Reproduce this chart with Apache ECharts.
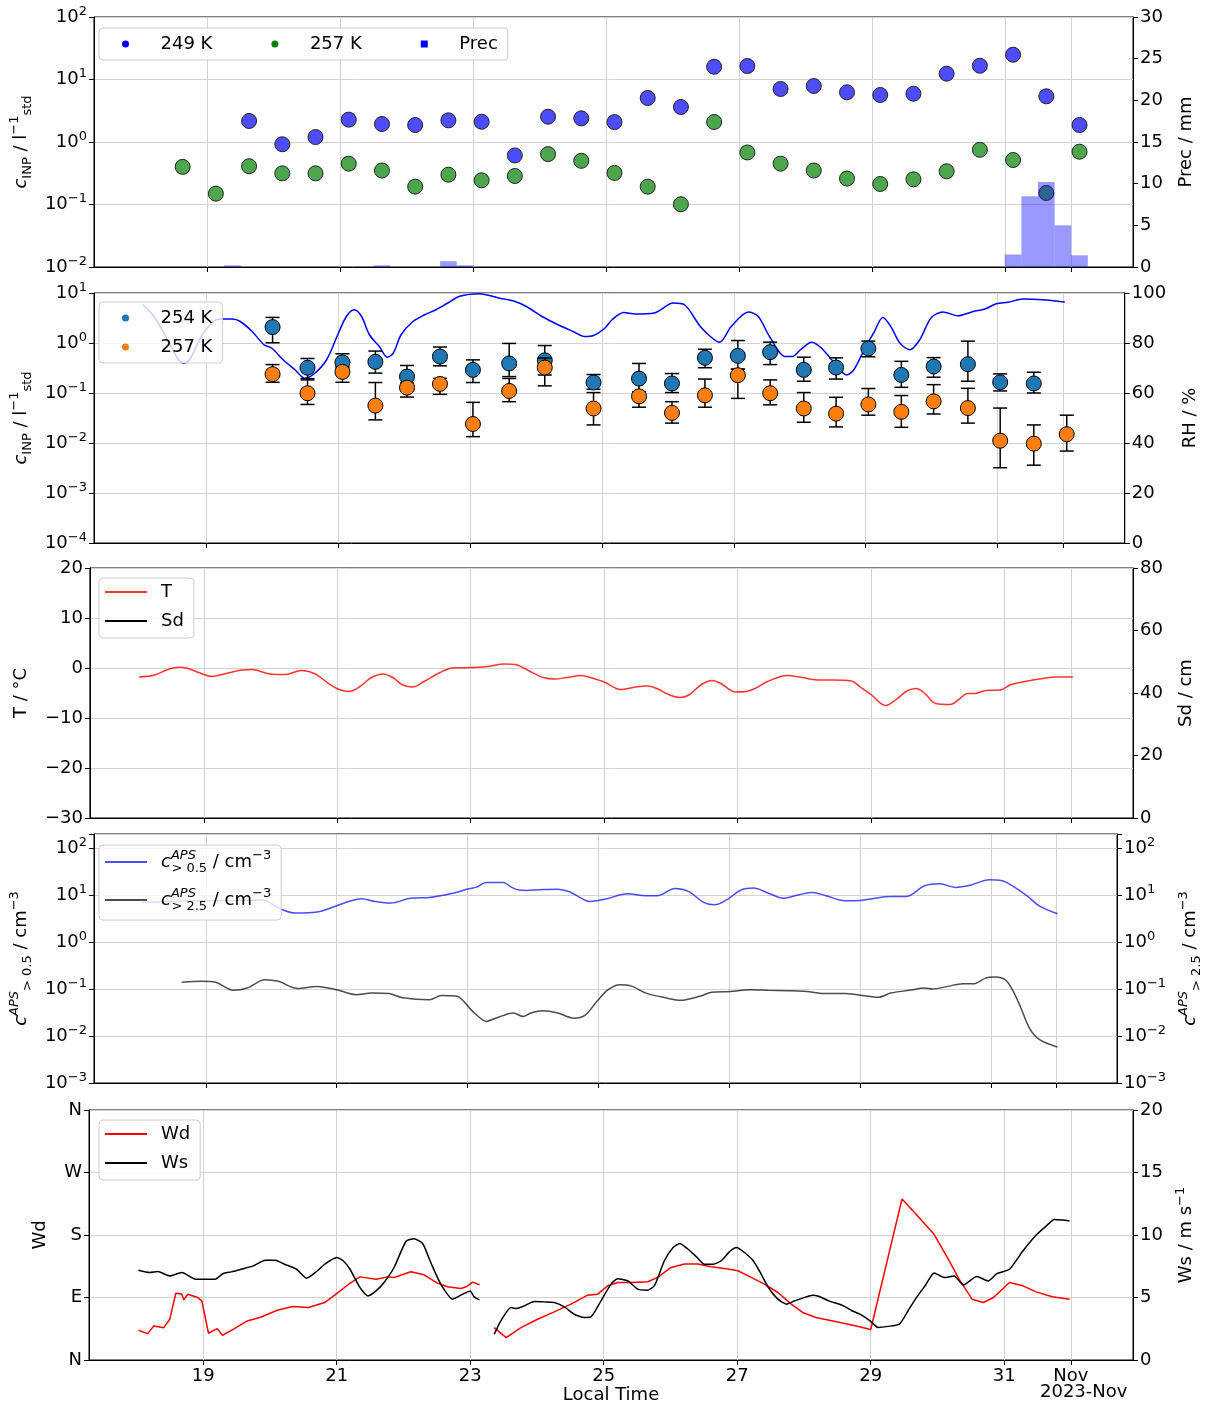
<!DOCTYPE html>
<html lang="en">
<head>
<meta charset="UTF-8">
<title>INP and meteorology, Oct 2023</title>
<script src="https://cdn.jsdelivr.net/npm/echarts@6.0.0/dist/echarts.min.js"></script>
<style>html, body { margin: 0; padding: 0; background: #fff; }</style>
</head>
<body>
<div id="main" style="width:1211px;height:1407px;"></div>
<script>
// x is day of October 2023 (Nov 1 = 32)
const dayTicks = [19, 21, 23, 25, 27, 29, 31, 32];
const dayTickNames = ['19', '21', '23', '25', '27', '29', '31', 'Nov'];

// panel 1: filter INP, every 12 h
const inpTimes = [18.625, 19.125, 19.625, 20.125, 20.625, 21.125, 21.625, 22.125, 22.625, 23.125,
  23.625, 24.125, 24.625, 25.125, 25.625, 26.125, 26.625, 27.125, 27.625, 28.125,
  28.625, 29.125, 29.625, 30.125, 30.625, 31.125, 31.625, 32.125];
const inp249 = [null, null, 2.17, 0.92, 1.20, 2.28, 1.94, 1.87, 2.22, 2.11,
  0.61, 2.54, 2.39, 2.08, 5.06, 3.63, 16.0, 16.4, 7.05, 7.87,
  6.24, 5.65, 5.93, 12.4, 16.6, 24.9, 5.38, 1.87];
const inp257 = [0.40, 0.149, 0.41, 0.315, 0.315, 0.45, 0.35, 0.193, 0.30, 0.244,
  0.286, 0.64, 0.50, 0.32, 0.193, 0.101, 2.09, 0.68, 0.45, 0.35,
  0.26, 0.213, 0.253, 0.34, 0.75, 0.515, 0.153, 0.70];
const precStart = [19.25, 21.5, 22.5, 22.75, 31.0, 31.25, 31.5, 31.75, 32.0];
const precMm = [0.2, 0.2, 0.7, 0.2, 1.5, 8.5, 10.2, 5.0, 1.4];
const precBin = 0.25;

// panel 2: INP with error bars + RH
const onlineTimes = [20.0, 20.53, 21.06, 21.56, 22.04, 22.54, 23.04, 23.59, 24.13, 24.87,
  25.56, 26.06, 26.56, 27.06, 27.55, 28.06, 28.55, 29.04, 29.54, 30.03,
  30.55, 31.04, 31.55, 32.05];
const inp254 = [2.08, 0.32, 0.41, 0.42, 0.213, 0.537, 0.29, 0.39, 0.45, 0.162,
  0.194, 0.155, 0.505, 0.553, 0.656, 0.29, 0.323, 0.776, 0.23, 0.339,
  0.377, 0.164, 0.155, null];
const inp254Lo = [1.01, 0.194, 0.33, 0.25, 0.157, 0.35, 0.162, 0.213, 0.229, 0.119,
  0.105, 0.102, 0.32, 0.30, 0.37, 0.172, 0.19, 0.53, 0.13, 0.207,
  0.172, 0.11, 0.10, null];
const inp254Hi = [3.25, 0.49, 0.61, 0.69, 0.355, 0.83, 0.46, 0.98, 0.89, 0.234,
  0.39, 0.245, 0.75, 1.12, 1.04, 0.52, 0.505, 1.09, 0.43, 0.51,
  1.09, 0.241, 0.26, null];
const inp257b = [0.238, 0.099, 0.264, 0.056, 0.128, 0.152, 0.024, 0.11, 0.323, 0.049,
  0.086, 0.040, 0.090, 0.227, 0.099, 0.049, 0.0386, 0.059, 0.042, 0.068,
  0.05, 0.0111, 0.0097, 0.015];
const inp257bLo = [0.164, 0.059, 0.164, 0.029, 0.083, 0.094, 0.0134, 0.067, 0.139, 0.023,
  0.052, 0.025, 0.052, 0.078, 0.058, 0.026, 0.021, 0.036, 0.0206, 0.038,
  0.025, 0.0032, 0.0036, 0.0069];
const inp257bHi = [0.37, 0.183, 0.33, 0.162, 0.157, 0.197, 0.065, 0.195, 0.5, 0.102,
  0.105, 0.067, 0.19, 0.30, 0.183, 0.102, 0.082, 0.123, 0.089, 0.147,
  0.124, 0.05, 0.023, 0.036];
const relHum = [[18.03, 95.3], [18.2, 90.6], [18.38, 82.6], [18.56, 73.9], [18.65, 71.9], [18.74, 73.3],
  [18.92, 82.6], [19.1, 88.6], [19.21, 89.6], [19.39, 89.6], [19.51, 88.6], [19.69, 84.6],
  [19.87, 79.3], [19.99, 77.9], [20.16, 73.3], [20.34, 69.3], [20.49, 65.9], [20.64, 67.9],
  [20.82, 73.3], [21.0, 84.0], [21.12, 90.6], [21.24, 93.3], [21.35, 90.6], [21.47, 83.3],
  [21.62, 78.6], [21.74, 74.3], [21.83, 75.9], [21.95, 83.3], [22.13, 88.6], [22.3, 91.2],
  [22.48, 93.3], [22.66, 96.0], [22.84, 98.7], [23.14, 99.7], [23.43, 98.0], [23.67, 96.7],
  [23.85, 94.6], [24.09, 90.6], [24.33, 87.3], [24.56, 84.6], [24.74, 82.6], [24.86, 82.9],
  [25.04, 85.9], [25.15, 89.3], [25.33, 92.2], [25.5, 91.6], [25.79, 92.0], [26.08, 96.0],
  [26.25, 95.3], [26.49, 86.6], [26.67, 82.0], [26.78, 80.3], [26.96, 86.6], [27.22, 92.4],
  [27.37, 90.6], [27.54, 82.6], [27.78, 74.6], [27.89, 74.6], [28.01, 77.3], [28.18, 80.3],
  [28.33, 77.9], [28.53, 71.9], [28.71, 67.2], [28.82, 69.3], [29.0, 78.6], [29.12, 84.0],
  [29.26, 90.2], [29.38, 86.6], [29.52, 79.9], [29.67, 77.3], [29.82, 81.3], [29.99, 90.0],
  [30.17, 92.4], [30.4, 90.9], [30.63, 92.6], [30.81, 93.6], [30.98, 95.7], [31.16, 96.3],
  [31.39, 97.6], [31.68, 97.3], [32.02, 96.4]];

// panel 3: temperature (snow depth has no data)
const temperature = [[18.03, -1.8], [18.26, -1.4], [18.44, -0.4], [18.62, 0.13], [18.74, 0], [18.92, -0.9],
  [19.12, -1.7], [19.33, -1.1], [19.57, -0.4], [19.72, -0.3], [19.99, -1.2], [20.22, -1.3],
  [20.46, -0.5], [20.67, -1.2], [20.88, -3.2], [21.03, -4.3], [21.18, -4.7], [21.35, -3.6],
  [21.5, -2.0], [21.68, -1.2], [21.83, -1.9], [21.98, -3.4], [22.13, -3.8], [22.3, -2.7],
  [22.54, -0.9], [22.72, 0], [23.02, 0.1], [23.26, 0.3], [23.5, 0.8], [23.67, 0.7],
  [23.85, -0.4], [24.09, -1.9], [24.27, -2.2], [24.44, -1.9], [24.66, -1.5], [24.82, -2.0],
  [25.0, -2.8], [25.25, -4.3], [25.47, -3.8], [25.65, -3.6], [25.79, -4.1], [25.95, -5.2],
  [26.14, -5.9], [26.27, -5.4], [26.46, -3.3], [26.62, -2.5], [26.75, -3.1], [26.97, -4.8],
  [27.13, -4.7], [27.26, -4.1], [27.45, -2.7], [27.75, -1.5], [27.93, -1.8], [28.2, -2.4],
  [28.42, -2.4], [28.71, -2.6], [28.84, -3.8], [29.01, -5.4], [29.22, -7.5], [29.38, -6.3],
  [29.54, -4.6], [29.68, -4.1], [29.81, -5.1], [29.97, -7.1], [30.19, -7.3], [30.32, -6.3],
  [30.45, -5.1], [30.56, -5.1], [30.72, -4.5], [30.94, -4.4], [31.1, -3.3], [31.31, -2.7],
  [31.58, -2.1], [31.79, -1.8], [32.03, -1.8]];
const snowDepth = [];

// panel 4: APS number concentrations
const aps05 = [[18.03, 7.0], [18.5, 7.3], [19.0, 7.6], [19.51, 7.7], [19.87, 7.9], [20.11, 5.3],
  [20.37, 4.14], [20.7, 4.35], [21.0, 5.93], [21.18, 7.3], [21.38, 8.4], [21.59, 7.3],
  [21.83, 6.76], [22.13, 8.6], [22.42, 8.9], [22.78, 11], [23.02, 13.6], [23.14, 14.8],
  [23.29, 18.6], [23.55, 18.6], [23.67, 14.8], [23.79, 12.8], [23.91, 12.6], [24.09, 13],
  [24.38, 13.4], [24.56, 11.8], [24.74, 8.6], [24.86, 7.3], [24.98, 7.6], [25.15, 8.5],
  [25.44, 10.7], [25.73, 9.7], [25.9, 9.7], [26.17, 13.9], [26.38, 12], [26.61, 7],
  [26.78, 6.2], [26.96, 7.9], [27.19, 13], [27.37, 14.1], [27.6, 11], [27.83, 8.6],
  [28.07, 10.2], [28.27, 11.4], [28.48, 9.7], [28.77, 7.6], [29.0, 7.7], [29.23, 8.6],
  [29.47, 9.3], [29.7, 9.3], [29.99, 15.8], [30.22, 17.4], [30.46, 14.6], [30.69, 16.3],
  [30.98, 21.2], [31.16, 20.5], [31.33, 15.8], [31.57, 9.3], [31.74, 5.9], [32.02, 4.0]];
const aps25 = [[18.63, 0.139], [18.92, 0.146], [19.15, 0.139], [19.42, 0.094], [19.63, 0.105], [19.9, 0.158],
  [20.11, 0.146], [20.4, 0.103], [20.7, 0.114], [21.0, 0.097], [21.29, 0.076], [21.53, 0.082],
  [21.8, 0.08], [22.01, 0.065], [22.42, 0.059], [22.6, 0.073], [22.84, 0.07], [23.08, 0.0335],
  [23.29, 0.0205], [23.43, 0.024], [23.7, 0.031], [23.85, 0.026], [23.97, 0.031], [24.15, 0.0347],
  [24.38, 0.031], [24.62, 0.024], [24.8, 0.028], [24.98, 0.055], [25.15, 0.097], [25.33, 0.124],
  [25.5, 0.117], [25.73, 0.082], [26.03, 0.065], [26.26, 0.0575], [26.55, 0.07], [26.73, 0.086],
  [27.02, 0.089], [27.31, 0.097], [27.6, 0.094], [27.89, 0.092], [28.18, 0.089], [28.48, 0.08],
  [28.77, 0.08], [29.0, 0.074], [29.29, 0.067], [29.47, 0.082], [29.76, 0.094], [29.99, 0.105],
  [30.11, 0.1], [30.34, 0.114], [30.57, 0.13], [30.75, 0.13], [30.92, 0.171], [31.07, 0.18],
  [31.22, 0.158], [31.33, 0.097], [31.45, 0.043], [31.59, 0.0148], [31.74, 0.0085], [32.02, 0.0058]];

// panel 5: wind direction (deg) and speed (m/s)
const windDir = [[18.03, 42.8], [18.17, 38.0], [18.26, 49.0], [18.41, 46.6], [18.5, 58.6], [18.59, 96.1],
  [18.68, 95.2], [18.71, 86.5], [18.77, 94.7], [18.92, 89.9], [18.98, 85.1], [19.08, 38.5],
  [19.21, 45.2], [19.29, 35.6], [19.45, 44.2], [19.66, 56.2], [19.87, 62.0], [20.11, 71.6],
  [20.34, 76.9], [20.58, 75.5], [20.82, 82.7], [21.0, 95.6], [21.18, 109.1], [21.35, 119.7],
  [21.59, 116.3], [21.77, 119.7], [21.86, 118.9], [22.11, 127], [22.31, 122.7], [22.51, 110.7],
  [22.66, 105.4], [22.86, 103], [22.94, 105.4], [23.04, 112.1], [23.14, 108.3], [23.25, '-'],
  [23.36, 46.7], [23.54, 32.2], [23.76, 46.7], [24.01, 58.7], [24.26, 69.3], [24.51, 80.4],
  [24.76, 93.4], [24.91, 94.8], [25.06, 106.8], [25.21, 111.7], [25.41, 111.7], [25.66, 112.6],
  [25.81, 118.9], [26.01, 133.3], [26.21, 138.1], [26.41, 138.1], [26.61, 134.3], [26.86, 130.9],
  [27.01, 128.5], [27.21, 118.9], [27.41, 109.3], [27.61, 97.2], [27.81, 80.4], [27.98, 68.5],
  [28.18, 61.3], [28.47, 55.5], [28.72, 50.3], [28.97, 44.5], [29.0, 43.6], [29.47, 232],
  [29.66, 212.1], [29.95, 181], [30.15, 147.4], [30.34, 113.9], [30.52, 87.6], [30.69, 82.8],
  [30.84, 90], [31.08, 111.5], [31.28, 106.8], [31.48, 98.1], [31.72, 91], [31.98, 87.6]];
const windSpeed = [[18.03, 7.18], [18.2, 7.0], [18.32, 7.08], [18.5, 6.73], [18.68, 7.0], [18.89, 6.46],
  [19.04, 6.46], [19.18, 6.46], [19.3, 6.92], [19.42, 7.05], [19.57, 7.26], [19.75, 7.53],
  [19.93, 7.98], [20.08, 7.98], [20.22, 7.66], [20.4, 7.26], [20.55, 6.54], [20.7, 7.08],
  [20.82, 7.66], [21.0, 8.2], [21.09, 7.98], [21.2, 7.26], [21.35, 5.79], [21.47, 5.13],
  [21.59, 5.53], [21.71, 6.2], [21.86, 7.4], [22.04, 9.5], [22.16, 9.7], [22.29, 9.3],
  [22.41, 7.8], [22.56, 6.07], [22.74, 4.87], [22.89, 5.27], [23.0, 5.53], [23.06, 5.05],
  [23.14, 4.81], [23.25, '-'], [23.36, 2.06], [23.46, 3.13], [23.61, 4.2], [23.69, 4.12],
  [23.81, 4.33], [23.96, 4.68], [24.11, 4.65], [24.26, 4.6], [24.41, 4.25], [24.56, 3.66],
  [24.71, 3.4], [24.81, 3.45], [24.96, 4.73], [25.11, 6.07], [25.21, 6.5], [25.36, 6.34],
  [25.51, 5.67], [25.66, 5.59], [25.76, 5.94], [25.91, 7.94], [26.04, 9.0], [26.14, 9.33],
  [26.26, 8.88], [26.39, 8.26], [26.51, 7.67], [26.64, 7.67], [26.76, 7.94], [26.89, 8.69],
  [26.99, 9.0], [27.11, 8.6], [27.24, 7.94], [27.36, 6.87], [27.46, 5.86], [27.61, 4.87],
  [27.74, 4.47], [27.86, 4.73], [27.98, 4.95], [28.13, 5.19], [28.23, 5.08], [28.37, 4.73],
  [28.57, 4.39], [28.72, 3.94], [28.84, 3.67], [29.0, 3.09], [29.11, 2.61], [29.26, 2.69],
  [29.43, 2.87], [29.56, 3.94], [29.68, 4.95], [29.83, 6.06], [29.95, 6.97], [30.1, 6.6],
  [30.25, 6.73], [30.39, 6.01], [30.59, 6.68], [30.76, 6.33], [30.89, 6.91], [31.08, 7.26],
  [31.28, 8.72], [31.48, 10.0], [31.63, 10.72], [31.75, 11.25], [31.87, 11.2], [31.98, 11.12]];

const compass = { 0: 'N', 90: 'E', 180: 'S', 270: 'W', 360: 'N' };

// ---------------------------------------------------------------
const font = 'DejaVu Sans';
const chart = echarts.init(document.getElementById('main'));

const panels = [
  { top: 17, height: 250 },
  { top: 293, height: 250 },
  { top: 568, height: 250 },
  { top: 834, height: 249 },
  { top: 1110, height: 250 }
];

// supSi takes no width so the following subscript stacks under it (legend only)
const richTxt = {
  i: { fontStyle: 'italic', fontSize: 18, fontFamily: font },
  sub: { fontSize: 13, lineHeight: 13, verticalAlign: 'bottom', fontFamily: font },
  sup: { fontSize: 13, lineHeight: 13, verticalAlign: 'top', fontFamily: font },
  supi: { fontSize: 13, lineHeight: 13, verticalAlign: 'top', fontStyle: 'italic', fontFamily: font },
  supSi: { fontSize: 13, lineHeight: 13, verticalAlign: 'top', fontStyle: 'italic', fontFamily: font, width: 0.5 }
};

function powTen(v) {
  const e = Math.log10(v), r = Math.round(e);
  if (Math.abs(e - r) > 1e-6) return '';
  return '10{sup|' + (r < 0 ? '\u2212' + (-r) : String(r)) + '}';
}

function pairs(xs, ys) {
  const out = [];
  xs.forEach((x, i) => { if (ys[i] != null) out.push([x, ys[i]]); });
  return out;
}

const grids = panels.map(p => ({
  left: 89, right: 78, top: p.top, height: p.height,
  show: true, borderColor: '#000', borderWidth: 1, backgroundColor: 'transparent'
}));

const xAxes = panels.map((p, i) => ({
  type: 'value', gridIndex: i, min: 17.29, max: 32.93,
  axisLine: { show: true, onZero: false, lineStyle: { color: '#000' } },
  axisTick: { show: true, length: 5, customValues: dayTicks, lineStyle: { color: '#000' } },
  axisLabel: {
    show: i === 4, customValues: dayTicks, color: '#000', fontSize: 18, fontFamily: font, margin: 7,
    formatter: v => dayTickNames[dayTicks.indexOf(v)] || ''
  },
  splitLine: { show: true, lineStyle: { color: '#d3d3d3', width: 1 } },
  name: i === 4 ? 'Local Time' : '', nameLocation: 'middle', nameGap: 26,
  nameTextStyle: { color: '#000', fontSize: 18, fontFamily: font }
}));

function yAx(gridIndex, position, o) {
  return {
    gridIndex, position,
    type: o.type || 'value', min: o.min, max: o.max, interval: o.interval,
    axisLine: { show: true, onZero: false, lineStyle: { color: '#000' } },
    axisTick: { show: true, length: 5, lineStyle: { color: '#000' } },
    axisLabel: {
      color: '#000', fontSize: 18, fontFamily: font, margin: 7, lineHeight: 24,
      formatter: o.fmt, rich: { sup: { fontSize: 13, lineHeight: 13, verticalAlign: 'top', fontFamily: font } }
    },
    splitLine: { show: position === 'left', lineStyle: { color: '#d3d3d3', width: 1 } },
    name: o.name, nameLocation: 'middle', nameRotate: 90, nameGap: o.gap,
    nameTextStyle: { color: '#000', fontSize: 18, fontFamily: font, lineHeight: 26, rich: richTxt }
  };
}

const inpName = '{i|c}{sub|INP} / l{sup|\u22121}{sub|std}';
const apsName = cut => '{i|c}{supi|APS}{sub|> ' + cut + '} / cm{sup|\u22123}';
const apsLegend = cut => '{i|c}{supSi|APS}{sub|> ' + cut + '} / cm{sup|\u22123}';

const yAxes = [
  yAx(0, 'left', { type: 'log', min: 0.01, max: 100, fmt: powTen, name: inpName, gap: 48 }),
  yAx(0, 'right', { min: 0, max: 30, interval: 5, name: 'Prec / mm', gap: 23 }),
  yAx(1, 'left', { type: 'log', min: 0.0001, max: 10, fmt: powTen, name: inpName, gap: 48 }),
  yAx(1, 'right', { min: 0, max: 100, interval: 20, name: 'RH / %', gap: 40 }),
  yAx(2, 'left', { min: -30, max: 20, interval: 10, fmt: v => v < 0 ? '\u2212' + (-v) : String(v), name: 'T / \u00b0C', gap: 43 }),
  yAx(2, 'right', { min: 0, max: 80, interval: 20, name: 'Sd / cm', gap: 23 }),
  yAx(3, 'left', { type: 'log', min: 0.001, max: 200, fmt: powTen, name: apsName('0.5'), gap: 56 }),
  yAx(3, 'right', { type: 'log', min: 0.001, max: 200, fmt: powTen, name: apsName('2.5'), gap: 50 }),
  yAx(4, 'left', { min: 0, max: 360, interval: 90, fmt: v => compass[v] || '', name: 'Wd', gap: 23 }),
  yAx(4, 'right', { min: 0, max: 20, interval: 5, name: 'Ws / m s{sup|\u22121}', gap: 29 })
];

function errorBars(name, xi, yi, times, lo, hi, z) {
  const data = [];
  times.forEach((t, i) => { if (lo[i] != null) data.push([t, lo[i], hi[i]]); });
  return {
    name, type: 'custom', xAxisIndex: xi, yAxisIndex: yi, z, silent: true,
    encode: { x: 0, y: [1, 2] },
    renderItem: (params, api) => {
      const t = api.value(0);
      const a = api.coord([t, api.value(1)]);
      const b = api.coord([t, api.value(2)]);
      const st = { stroke: '#000', lineWidth: 1.5 };
      const hw = 7;
      return {
        type: 'group', children: [
          { type: 'line', shape: { x1: a[0], y1: a[1], x2: b[0], y2: b[1] }, style: st },
          { type: 'line', shape: { x1: a[0] - hw, y1: a[1], x2: a[0] + hw, y2: a[1] }, style: st },
          { type: 'line', shape: { x1: b[0] - hw, y1: b[1], x2: b[0] + hw, y2: b[1] }, style: st }
        ]
      };
    },
    data
  };
}

function line(name, xi, yi, data, color, z, smooth) {
  return {
    name, type: 'line', xAxisIndex: xi, yAxisIndex: yi, data, z,
    showSymbol: false, symbol: 'none', smooth: smooth, connectNulls: false,
    lineStyle: { color, width: 1.5 }, itemStyle: { color }
  };
}

const series = [
  // panel 1
  {
    name: 'a249', type: 'scatter', xAxisIndex: 0, yAxisIndex: 0, z: 3, symbolSize: 15,
    itemStyle: { color: '#4d4dff', borderColor: '#222', borderWidth: 1, opacity: 1 },
    data: pairs(inpTimes, inp249)
  },
  {
    name: 'a257', type: 'scatter', xAxisIndex: 0, yAxisIndex: 0, z: 3, symbolSize: 15,
    itemStyle: { color: '#4da64d', borderColor: '#222', borderWidth: 1, opacity: 1 },
    data: pairs(inpTimes, inp257)
  },
  {
    name: 'prec', type: 'custom', xAxisIndex: 0, yAxisIndex: 1, z: 5, silent: true,
    encode: { x: [0, 1], y: 2 },
    itemStyle: { color: '#0000ff' },
    renderItem: (params, api) => {
      const a = api.coord([api.value(0), api.value(2)]);
      const b = api.coord([api.value(1), 0]);
      return {
        type: 'rect',
        shape: { x: a[0], y: a[1], width: b[0] - a[0], height: b[1] - a[1] },
        style: { fill: 'rgba(0,0,255,0.4)' }
      };
    },
    data: precStart.map((s, i) => [s, s + precBin, precMm[i]])
  },
  // panel 2
  line('rh', 1, 3, relHum, '#0000ff', 2, 0.3),
  errorBars('err254', 1, 2, onlineTimes, inp254Lo, inp254Hi, 3),
  {
    name: 'b254', type: 'scatter', xAxisIndex: 1, yAxisIndex: 2, z: 4, symbolSize: 15,
    itemStyle: { color: '#1f77b4', borderColor: '#000', borderWidth: 1, opacity: 1 },
    data: pairs(onlineTimes, inp254)
  },
  errorBars('err257', 1, 2, onlineTimes, inp257bLo, inp257bHi, 5),
  {
    name: 'b257', type: 'scatter', xAxisIndex: 1, yAxisIndex: 2, z: 6, symbolSize: 15,
    itemStyle: { color: '#ff7f0e', borderColor: '#000', borderWidth: 1, opacity: 1 },
    data: pairs(onlineTimes, inp257b)
  },
  // panel 3
  line('temp', 2, 4, temperature, 'rgba(255,0,0,0.8)', 2, 0.35),
  line('sd', 2, 5, snowDepth, '#000000', 2, false),
  // panel 4
  line('c05', 3, 6, aps05, 'rgba(0,0,255,0.7)', 2, 0.35),
  line('c25', 3, 7, aps25, 'rgba(0,0,0,0.7)', 2, 0.3),
  // panel 5
  line('wd', 4, 8, windDir, '#ff0000', 2, false),
  line('ws', 4, 9, windSpeed, '#000000', 3, 0.2)
];

const legendText = {
  a249: '249 K', a257: '257 K', prec: 'Prec',
  b254: '254 K', b257: '257 K',
  temp: 'T', sd: 'Sd',
  c05: apsLegend('0.5'), c25: apsLegend('2.5'),
  wd: 'Wd', ws: 'Ws'
};

function legendBox(o) {
  return Object.assign({
    orient: 'vertical', left: 99, selectedMode: false, z: 20,
    backgroundColor: 'rgba(255,255,255,0.8)', borderColor: '#cccccc', borderWidth: 1, borderRadius: 4,
    padding: [4, 10, 7, 6], itemWidth: 42, itemHeight: 2, itemGap: 9,
    textStyle: { fontSize: 18, fontFamily: font, color: '#000', padding: [0, 0, 0, 9], lineHeight: 20, rich: richTxt },
    formatter: n => legendText[n]
  }, o);
}

const dotIcon = c => ({ icon: 'circle', itemStyle: { color: c, borderWidth: 0 } });
const lineIcon = c => ({ icon: 'rect', itemStyle: { color: c, borderWidth: 0 } });

const legends = [
  legendBox({
    orient: 'horizontal', top: 28, itemHeight: 7, itemGap: 59, padding: [6, 10, 6, 23],
    data: [
      Object.assign({ name: 'a249' }, dotIcon('#0000ff')),
      Object.assign({ name: 'a257' }, dotIcon('#008000')),
      { name: 'prec', icon: 'path://M0,0L10,0L10,10L0,10Z', itemStyle: { color: '#0000ff', borderWidth: 0 } }
    ]
  }),
  legendBox({
    top: 302, itemHeight: 7, padding: [6, 10, 6, 23],
    data: [Object.assign({ name: 'b254' }, dotIcon('#1f77b4')), Object.assign({ name: 'b257' }, dotIcon('#ff7f0e'))]
  }),
  legendBox({
    top: 578,
    data: [Object.assign({ name: 'temp' }, lineIcon('#ff3333')), Object.assign({ name: 'sd' }, lineIcon('#000000'))]
  }),
  legendBox({
    top: 845, itemGap: 12,
    textStyle: { fontSize: 18, fontFamily: font, color: '#000', padding: [0, 0, 0, 9], lineHeight: 26, rich: richTxt },
    data: [Object.assign({ name: 'c05' }, lineIcon('#4d4dff')), Object.assign({ name: 'c25' }, lineIcon('#4d4d4d'))]
  }),
  legendBox({
    top: 1120,
    data: [Object.assign({ name: 'wd' }, lineIcon('#ff0000')), Object.assign({ name: 'ws' }, lineIcon('#000000'))]
  })
];

const option = {
  animation: false,
  backgroundColor: '#ffffff',
  textStyle: { fontFamily: font, color: '#000' },
  grid: grids,
  xAxis: xAxes,
  yAxis: yAxes,
  legend: legends,
  series: series,
  graphic: [{
    type: 'text', left: 1040, top: 1383,
    style: { text: '2023-Nov', fontSize: 18, fontFamily: font, fill: '#000' }
  }]
};

chart.setOption(option);
</script>
</body>
</html>
